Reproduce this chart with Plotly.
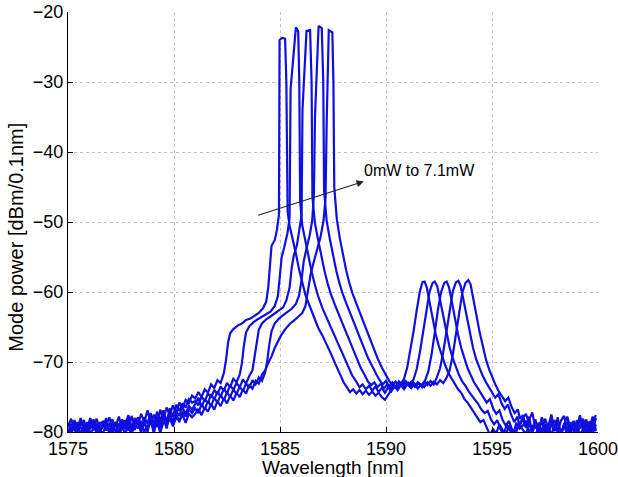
import plotly.graph_objects as go

# ---------------- data ----------------
WL_LEFT = [1575.00, 1575.15, 1575.30, 1575.45, 1575.60, 1575.75, 1575.90, 1576.05, 1576.20, 1576.35,
           1576.50, 1576.65, 1576.80, 1576.95, 1577.10, 1577.25, 1577.40, 1577.55, 1577.70, 1577.85,
           1578.00, 1578.15, 1578.30, 1578.45, 1578.60, 1578.75, 1578.90, 1579.05, 1579.20, 1579.35,
           1579.50, 1579.65, 1579.80, 1579.95, 1580.10, 1580.25, 1580.40, 1580.55, 1580.70, 1580.85]

WL_RIGHT = [1596.45, 1596.60, 1596.75, 1596.90, 1597.05, 1597.20, 1597.35, 1597.50, 1597.65, 1597.80,
            1597.95, 1598.10, 1598.25, 1598.40, 1598.55, 1598.70, 1598.85, 1599.00, 1599.15, 1599.30,
            1599.45, 1599.60, 1599.75, 1599.90]

P0_LEFT = [-79.2, -78.1, -79.8, -78.6, -80.4, -78.9, -79.5, -78.0, -79.7, -78.8,
           -80.2, -78.4, -79.1, -77.9, -79.6, -78.7, -80.3, -78.2, -78.9, -77.6,
           -79.4, -78.0, -79.0, -77.4, -78.6, -76.9, -78.8, -77.5, -79.3, -76.8,
           -78.1, -76.5, -77.6, -76.2, -77.3, -75.8, -76.6, -75.4, -75.9, -74.8]
P1_LEFT = [-78.7, -79.9, -78.3, -79.4, -78.0, -80.1, -79.0, -79.6, -78.2, -79.9,
           -78.6, -79.3, -78.0, -80.5, -78.5, -79.2, -77.8, -79.5, -78.3, -79.8,
           -77.7, -79.1, -78.4, -80.2, -77.9, -78.8, -77.3, -79.0, -77.1, -78.4,
           -76.9, -78.7, -76.6, -77.8, -76.1, -77.0, -75.9, -76.5, -75.3, -75.8]
P2_LEFT = [-80.3, -78.9, -79.4, -80.0, -78.5, -79.1, -80.4, -78.6, -79.3, -78.1,
           -79.7, -80.2, -78.8, -79.0, -78.2, -80.1, -78.9, -78.4, -79.6, -78.1,
           -79.9, -78.7, -77.9, -79.2, -78.5, -80.0, -78.0, -78.6, -77.8, -79.4,
           -77.6, -78.2, -77.2, -78.9, -77.0, -77.7, -76.5, -77.4, -76.3, -76.8]
P3_LEFT = [-79.5, -80.2, -78.8, -79.6, -79.0, -78.3, -80.0, -79.2, -78.7, -80.3,
           -79.1, -78.5, -79.8, -78.9, -80.1, -78.6, -79.2, -78.9, -80.4, -78.7,
           -79.0, -79.7, -78.3, -79.4, -78.8, -79.6, -78.4, -80.2, -78.1, -78.8,
           -77.9, -79.5, -77.7, -78.3, -77.4, -78.6, -77.1, -77.8, -76.7, -77.3]
P4_LEFT = [-78.9, -79.7, -80.5, -78.7, -79.4, -79.9, -78.6, -80.2, -79.5, -78.9,
           -80.0, -79.2, -78.7, -79.8, -79.3, -78.6, -80.3, -79.6, -78.9, -79.3,
           -80.4, -78.8, -79.5, -78.4, -80.0, -79.1, -78.7, -79.3, -78.5, -80.1,
           -78.6, -78.9, -78.0, -79.2, -77.9, -78.4, -77.5, -78.7, -77.4, -77.9]

P0_RIGHT = [-79.6, -80.3, -78.8, -79.9, -80.5, -79.2, -78.7, -80.1, -79.4, -80.4, -78.9, -79.7,
            -80.2, -79.0, -80.5, -78.6, -79.8, -80.3, -79.1, -78.5, -80.0, -79.4, -78.8, -79.9]
P1_RIGHT = [-79.1, -78.4, -80.0, -79.3, -78.7, -80.4, -79.5, -78.9, -80.2, -79.0, -78.3, -79.8,
            -80.5, -78.8, -79.4, -80.1, -78.6, -79.2, -80.3, -79.7, -78.4, -79.5, -80.2, -78.9]
P2_RIGHT = [-78.2, -79.4, -77.8, -80.1, -78.9, -79.6, -78.1, -80.3, -79.0, -78.5, -79.9, -77.9,
            -80.4, -79.2, -78.7, -79.8, -80.5, -78.3, -79.5, -78.1, -80.0, -79.3, -77.8, -79.7]
P3_RIGHT = [-78.0, -77.4, -78.8, -79.6, -78.2, -80.2, -77.9, -79.1, -80.4, -78.6, -79.3, -80.0,
            -78.4, -77.7, -79.8, -80.3, -78.9, -79.4, -77.6, -80.1, -79.2, -78.5, -79.9, -78.0]
P4_RIGHT = [-77.6, -79.0, -78.3, -77.2, -79.5, -78.7, -80.2, -78.1, -79.3, -77.5, -79.8, -78.6,
            -80.4, -78.9, -77.8, -79.6, -78.4, -80.0, -77.9, -79.1, -78.2, -80.3, -78.7, -77.6]

# (wavelength nm, power dBm) for the spectral features of each trace
MID0 = [(1581.0, -75.2), (1581.15, -74.3), (1581.3, -75.0), (1581.45, -73.9), (1581.6, -74.4),
        (1581.75, -73.2), (1581.9, -73.7), (1582.05, -72.6), (1582.2, -73.0), (1582.35, -71.6),
        (1582.45, -69.8), (1582.55, -67.2), (1582.65, -65.9), (1582.8, -65.3), (1583.0, -64.8),
        (1583.2, -64.5), (1583.4, -64.0), (1583.6, -63.8), (1583.8, -63.4), (1584.0, -63.0),
        (1584.2, -62.3), (1584.35, -61.4), (1584.45, -59.2), (1584.52, -56.0), (1584.6, -53.4),
        (1584.75, -52.6), (1584.85, -51.2), (1584.95, -49.0), (1584.98, -24.0), (1585.1, -23.7),
        (1585.24, -23.8), (1585.3, -30.0), (1585.36, -48.5), (1585.45, -50.5), (1585.6, -52.3),
        (1585.75, -54.5), (1585.9, -56.8), (1586.05, -58.6), (1586.2, -60.4), (1586.4, -62.0),
        (1586.6, -63.6), (1586.8, -65.1), (1587.0, -66.2), (1587.2, -67.4), (1587.4, -68.8),
        (1587.6, -70.2), (1587.8, -71.6), (1588.0, -72.9), (1588.15, -73.6), (1588.3, -74.3),
        (1588.45, -73.9), (1588.6, -74.5), (1588.75, -74.0), (1588.9, -74.6), (1589.05, -74.1),
        (1589.2, -74.7), (1589.35, -74.2), (1589.5, -74.8), (1589.65, -74.4), (1589.8, -75.0),
        (1589.95, -75.4), (1590.1, -74.6), (1590.25, -74.0), (1590.4, -73.6), (1590.55, -73.9),
        (1590.7, -73.2), (1590.85, -72.4), (1591.0, -70.8), (1591.15, -68.4), (1591.3, -65.6),
        (1591.45, -62.6), (1591.6, -59.9), (1591.72, -58.6), (1591.82, -58.5), (1591.92, -59.3),
        (1592.05, -61.4), (1592.2, -63.9), (1592.35, -66.1), (1592.5, -67.8), (1592.65, -69.3),
        (1592.8, -70.5), (1592.95, -71.6), (1593.1, -72.4), (1593.25, -73.1), (1593.4, -73.9),
        (1593.55, -74.4), (1593.7, -75.3), (1593.85, -75.8), (1594.0, -76.6), (1594.15, -77.2),
        (1594.3, -77.9), (1594.45, -78.6), (1594.6, -78.3), (1594.75, -79.4), (1594.9, -80.4),
        (1595.05, -79.6), (1595.2, -80.2), (1595.35, -78.9), (1595.5, -79.8), (1595.65, -80.5),
        (1595.8, -79.1), (1595.95, -79.7), (1596.1, -80.3), (1596.25, -78.8)]

MID1 = [(1581.0, -75.6), (1581.15, -76.2), (1581.3, -74.9), (1581.45, -75.6), (1581.6, -74.5),
        (1581.75, -75.1), (1581.9, -74.0), (1582.05, -74.6), (1582.2, -73.5), (1582.35, -74.1),
        (1582.5, -73.0), (1582.65, -73.6), (1582.8, -72.4), (1582.95, -72.9), (1583.1, -71.8),
        (1583.2, -70.2), (1583.3, -67.6), (1583.4, -65.8), (1583.55, -64.9), (1583.75, -64.3),
        (1583.95, -63.9), (1584.15, -63.5), (1584.35, -63.2), (1584.55, -62.8), (1584.75, -62.0),
        (1584.9, -60.6), (1585.0, -57.5), (1585.08, -55.0), (1585.2, -53.6), (1585.35, -51.6),
        (1585.45, -49.5), (1585.5, -31.0), (1585.75, -22.2), (1585.86, -22.8), (1585.91, -30.0),
        (1585.95, -47.0), (1586.05, -50.5), (1586.2, -52.8), (1586.35, -55.0), (1586.5, -57.2),
        (1586.65, -59.0), (1586.8, -60.6), (1587.0, -62.3), (1587.2, -63.7), (1587.4, -65.0),
        (1587.6, -66.3), (1587.8, -67.8), (1588.0, -69.2), (1588.2, -70.6), (1588.4, -71.9),
        (1588.6, -72.8), (1588.75, -73.6), (1588.9, -73.2), (1589.05, -73.9), (1589.2, -73.4),
        (1589.35, -74.1), (1589.5, -73.5), (1589.65, -74.3), (1589.8, -73.7), (1589.95, -74.4),
        (1590.1, -73.6), (1590.25, -74.2), (1590.4, -73.4), (1590.55, -74.0), (1590.7, -73.3),
        (1590.85, -73.9), (1591.0, -73.1), (1591.15, -73.6), (1591.3, -72.5), (1591.45, -71.0),
        (1591.6, -68.6), (1591.75, -65.7), (1591.9, -62.4), (1592.05, -60.0), (1592.2, -58.7),
        (1592.3, -58.5), (1592.42, -59.2), (1592.55, -61.2), (1592.7, -63.7), (1592.85, -66.0),
        (1593.0, -67.9), (1593.15, -69.5), (1593.3, -70.8), (1593.45, -71.9), (1593.6, -72.8),
        (1593.75, -73.4), (1593.9, -74.2), (1594.05, -74.8), (1594.2, -75.5), (1594.35, -76.0),
        (1594.5, -76.8), (1594.65, -77.3), (1594.8, -77.0), (1594.95, -78.2), (1595.1, -78.9),
        (1595.25, -78.3), (1595.4, -79.6), (1595.55, -80.4), (1595.7, -78.9), (1595.85, -79.8),
        (1596.0, -80.3), (1596.15, -78.7), (1596.3, -79.5)]

MID2 = [(1581.0, -76.0), (1581.15, -75.1), (1581.3, -76.4), (1581.45, -75.3), (1581.6, -75.9),
        (1581.75, -74.6), (1581.9, -75.4), (1582.05, -74.2), (1582.2, -75.0), (1582.35, -73.8),
        (1582.5, -74.5), (1582.65, -73.3), (1582.8, -74.0), (1582.95, -73.0), (1583.1, -73.6),
        (1583.25, -72.5), (1583.4, -73.1), (1583.55, -72.0), (1583.7, -71.2), (1583.8, -69.4),
        (1583.9, -67.0), (1584.0, -65.4), (1584.15, -64.5), (1584.35, -63.9), (1584.55, -63.5),
        (1584.75, -63.1), (1584.95, -62.7), (1585.15, -62.2), (1585.3, -61.2), (1585.45, -59.4),
        (1585.55, -56.6), (1585.65, -54.8), (1585.8, -53.3), (1585.92, -51.2), (1586.02, -49.0),
        (1586.06, -34.0), (1586.25, -22.7), (1586.42, -22.6), (1586.49, -30.0), (1586.53, -46.5),
        (1586.65, -50.2), (1586.8, -52.6), (1586.95, -54.9), (1587.1, -57.0), (1587.25, -58.8),
        (1587.4, -60.3), (1587.6, -61.9), (1587.8, -63.4), (1588.0, -64.9), (1588.2, -66.3),
        (1588.4, -67.9), (1588.6, -69.4), (1588.8, -70.8), (1589.0, -71.9), (1589.15, -72.8),
        (1589.3, -73.3), (1589.45, -72.9), (1589.6, -73.6), (1589.75, -73.1), (1589.9, -73.8),
        (1590.05, -73.2), (1590.2, -73.9), (1590.35, -73.1), (1590.5, -73.7), (1590.65, -72.9),
        (1590.8, -73.5), (1590.95, -72.8), (1591.1, -73.4), (1591.25, -72.9), (1591.4, -73.5),
        (1591.55, -73.0), (1591.7, -73.6), (1591.85, -72.6), (1592.0, -71.3), (1592.15, -68.9),
        (1592.3, -65.8), (1592.45, -62.5), (1592.6, -60.0), (1592.75, -58.7), (1592.86, -58.5),
        (1592.97, -59.3), (1593.1, -61.3), (1593.25, -63.9), (1593.4, -66.1), (1593.55, -68.0),
        (1593.7, -69.6), (1593.85, -70.9), (1594.0, -71.9), (1594.15, -72.9), (1594.3, -73.6),
        (1594.45, -74.4), (1594.6, -75.0), (1594.75, -75.8), (1594.9, -75.3), (1595.05, -76.6),
        (1595.2, -77.4), (1595.35, -76.9), (1595.5, -78.3), (1595.65, -79.1), (1595.8, -78.4),
        (1595.95, -79.7), (1596.1, -80.4), (1596.25, -78.9)]

MID3 = [(1581.0, -76.6), (1581.15, -77.3), (1581.3, -76.0), (1581.45, -76.8), (1581.6, -75.6),
        (1581.75, -76.3), (1581.9, -75.1), (1582.05, -75.8), (1582.2, -74.7), (1582.35, -75.5),
        (1582.5, -74.3), (1582.65, -75.0), (1582.8, -73.9), (1582.95, -74.6), (1583.1, -73.5),
        (1583.25, -74.2), (1583.4, -73.1), (1583.55, -73.7), (1583.7, -72.6), (1583.85, -73.2),
        (1584.0, -72.2), (1584.15, -72.7), (1584.3, -71.5), (1584.4, -69.8), (1584.5, -67.4),
        (1584.6, -65.6), (1584.75, -64.5), (1584.95, -63.8), (1585.15, -63.3), (1585.35, -62.9),
        (1585.55, -62.4), (1585.75, -61.7), (1585.9, -60.5), (1586.02, -58.2), (1586.12, -55.6),
        (1586.25, -53.8), (1586.4, -51.9), (1586.52, -49.8), (1586.6, -46.0), (1586.65, -35.0),
        (1586.82, -22.0), (1586.97, -22.3), (1587.04, -30.0), (1587.08, -45.5), (1587.2, -49.8),
        (1587.35, -52.4), (1587.5, -54.8), (1587.65, -56.9), (1587.8, -58.7), (1587.95, -60.2),
        (1588.15, -61.8), (1588.35, -63.4), (1588.55, -64.9), (1588.75, -66.4), (1588.95, -67.9),
        (1589.15, -69.4), (1589.35, -70.7), (1589.55, -71.8), (1589.7, -72.6), (1589.85, -73.2),
        (1590.0, -72.7), (1590.15, -73.5), (1590.3, -72.9), (1590.45, -73.6), (1590.6, -72.8),
        (1590.75, -73.4), (1590.9, -72.7), (1591.05, -73.3), (1591.2, -72.8), (1591.35, -73.5),
        (1591.5, -72.9), (1591.65, -73.4), (1591.8, -72.8), (1591.95, -73.3), (1592.1, -72.7),
        (1592.25, -73.2), (1592.4, -72.2), (1592.55, -70.9), (1592.7, -68.6), (1592.85, -65.5),
        (1593.0, -62.3), (1593.15, -59.9), (1593.3, -58.6), (1593.41, -58.4), (1593.52, -59.1),
        (1593.65, -61.1), (1593.8, -63.7), (1593.95, -65.9), (1594.1, -67.9), (1594.25, -69.6),
        (1594.4, -70.9), (1594.55, -71.9), (1594.7, -72.8), (1594.85, -73.6), (1595.0, -74.4),
        (1595.15, -75.1), (1595.3, -74.6), (1595.45, -75.9), (1595.6, -76.7), (1595.75, -76.1),
        (1595.9, -77.5), (1596.05, -78.6), (1596.2, -77.8), (1596.3, -79.2)]

MID4 = [(1581.0, -77.4), (1581.15, -76.7), (1581.3, -77.6), (1581.45, -76.5), (1581.6, -77.1),
        (1581.75, -76.0), (1581.9, -76.8), (1582.05, -75.6), (1582.2, -76.3), (1582.35, -75.2),
        (1582.5, -75.9), (1582.65, -74.8), (1582.8, -75.5), (1582.95, -74.4), (1583.1, -75.0),
        (1583.25, -73.9), (1583.4, -74.5), (1583.55, -73.3), (1583.7, -73.8), (1583.85, -72.7),
        (1584.0, -73.1), (1584.15, -71.8), (1584.3, -71.2), (1584.45, -70.1), (1584.6, -69.2),
        (1584.75, -68.0), (1584.9, -67.0), (1585.05, -66.2), (1585.25, -65.3), (1585.45, -64.6),
        (1585.65, -64.1), (1585.85, -63.6), (1586.05, -63.0), (1586.2, -62.0), (1586.32, -59.8),
        (1586.45, -57.4), (1586.6, -55.6), (1586.75, -54.0), (1586.9, -52.3), (1587.05, -49.9),
        (1587.15, -46.5), (1587.2, -36.0), (1587.3, -22.6), (1587.47, -22.9), (1587.52, -30.0),
        (1587.56, -45.0), (1587.68, -49.6), (1587.82, -52.3), (1587.97, -54.7), (1588.12, -56.9),
        (1588.27, -58.7), (1588.42, -60.2), (1588.62, -61.8), (1588.82, -63.4), (1589.02, -65.0),
        (1589.22, -66.6), (1589.42, -68.1), (1589.62, -69.6), (1589.82, -70.9), (1590.0, -71.9),
        (1590.15, -72.7), (1590.3, -73.3), (1590.45, -72.8), (1590.6, -73.5), (1590.75, -72.9),
        (1590.9, -73.6), (1591.05, -73.0), (1591.2, -73.7), (1591.35, -73.1), (1591.5, -73.8),
        (1591.65, -73.2), (1591.8, -73.6), (1591.95, -72.9), (1592.1, -73.4), (1592.25, -72.8),
        (1592.4, -73.2), (1592.55, -72.6), (1592.7, -73.0), (1592.85, -72.3), (1593.0, -71.2),
        (1593.15, -69.0), (1593.3, -66.0), (1593.45, -62.7), (1593.6, -60.1), (1593.75, -58.7),
        (1593.88, -58.3), (1593.99, -58.9), (1594.12, -60.8), (1594.27, -63.4), (1594.42, -65.8),
        (1594.57, -67.9), (1594.72, -69.7), (1594.87, -71.1), (1595.02, -72.3), (1595.17, -73.3),
        (1595.32, -74.2), (1595.47, -74.9), (1595.62, -75.6), (1595.77, -75.1), (1595.92, -76.4),
        (1596.07, -77.3), (1596.22, -76.8), (1596.32, -78.1)]

TRACES = [
    ("0 mW", P0_LEFT, MID0, P0_RIGHT),
    ("1", P1_LEFT, MID1, P1_RIGHT),
    ("2", P2_LEFT, MID2, P2_RIGHT),
    ("3", P3_LEFT, MID3, P3_RIGHT),
    ("7.1 mW", P4_LEFT, MID4, P4_RIGHT),
]

X_TICKS = [1575, 1580, 1585, 1590, 1595, 1600]
Y_TICKS = [-80, -70, -60, -50, -40, -30, -20]
X_TITLE = "Wavelength [nm]"
Y_TITLE = "Mode power [dBm/0.1nm]"
ARROW_TEXT = "0mW to 7.1mW"

LINE_COLOR = "rgb(15,15,225)"
FONT = "Liberation Sans, Arial, Helvetica, sans-serif"

fig = go.Figure()
for name, left, mid, right in TRACES:
    xs = WL_LEFT + [m[0] for m in mid] + WL_RIGHT
    ys = left + [m[1] for m in mid] + right
    fig.add_trace(go.Scatter(x=xs, y=ys, mode="lines", name=name,
                             line=dict(color=LINE_COLOR, width=2.2)))

axis_common = dict(
    showline=True, linecolor="black", linewidth=1,
    ticks="inside", ticklen=5, tickcolor="black", tickwidth=1,
    showgrid=True, gridcolor="#c4c4c4", griddash="dot", gridwidth=1,
    zeroline=False, automargin=False, ticklabeloverflow="allow",
    tickfont=dict(size=18, color="black", family=FONT),
)

fig.update_layout(
    width=618, height=477,
    margin=dict(l=68, r=20, t=12, b=45),
    plot_bgcolor="white", paper_bgcolor="white",
    showlegend=False,
    font=dict(family=FONT, size=18, color="black"),
    xaxis=dict(range=[1575, 1600], tickvals=X_TICKS, **axis_common),
    yaxis=dict(range=[-80, -20], tickvals=Y_TICKS, **axis_common),
    annotations=[
        dict(x=1588.95, y=-44.2, ax=1583.9, ay=-49.1, xref="x", yref="y",
             axref="x", ayref="y", text="", showarrow=True,
             arrowhead=2, arrowsize=1.3, arrowwidth=1.1, arrowcolor="#222222"),
        dict(x=1588.85, y=-42.6, xref="x", yref="y", text=ARROW_TEXT,
             showarrow=False, xanchor="left", yanchor="middle",
             font=dict(size=16, color="black", family=FONT)),
        dict(x=0.5, y=-0.084, xref="paper", yref="paper", text=X_TITLE,
             showarrow=False, xanchor="center", yanchor="middle",
             font=dict(size=19, color="black", family=FONT)),
        dict(x=-0.097, y=0.464, xref="paper", yref="paper", text=Y_TITLE,
             showarrow=False, xanchor="center", yanchor="middle", textangle=-90,
             font=dict(size=20, color="black", family=FONT)),
    ],
)

fig.write_html("out.html",
               config={"displayModeBar": False},
               post_script="document.body.style.margin='0';document.body.style.overflow='hidden';")
